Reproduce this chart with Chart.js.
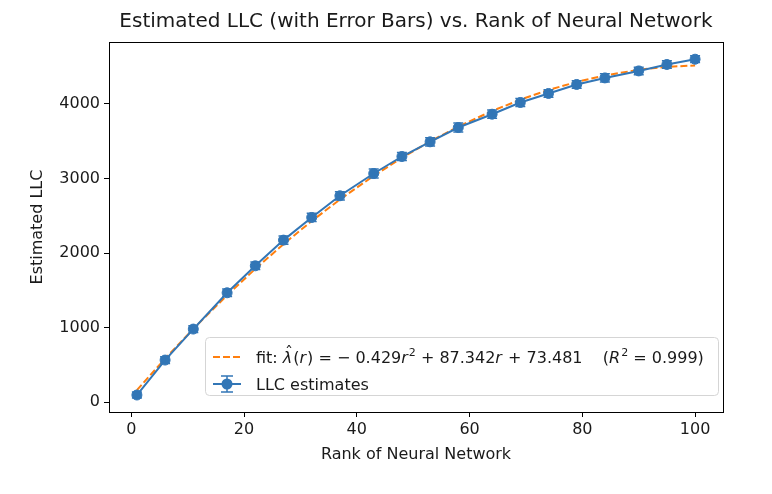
<!DOCTYPE html>
<html><head><meta charset="utf-8">
<script src="https://cdn.jsdelivr.net/npm/chart.js@4"></script>
<style>html,body{margin:0;padding:0;background:#fff}#wrap{width:772px;height:494px}</style>
</head><body><div id="wrap"><canvas id="c" width="772" height="494"></canvas></div>
<script>
const ranks = [1,6,11,17,22,27,32,37,43,48,53,58,64,69,74,79,84,90,95,100];
const llc = [94,563,979,1466,1828,2173,2477,2768,3067,3295,3492,3684,3863,4020,4141,4262,4350,4444,4530,4601];
const llcErr = [40,45,45,50,50,55,55,55,60,55,55,60,55,55,50,50,55,50,50,45];
const fitValues = [160,582,982,1434,1787,2119,2429,2718,3036,3278,3498,3696,3906,4058,4188,4296,4383,4459,4499,4518];
const xTicks = [0,20,40,60,80,100];
const yTicks = [0,1000,2000,3000,4000];
const titleText = 'Estimated LLC (with Error Bars) vs. Rank of Neural Network';
const xLabel = 'Rank of Neural Network';
const yLabel = 'Estimated LLC';
const legendLLC = 'LLC estimates';

const BLUE = 'rgb(50,118,182)';
const ORANGE = '#ff7f0e';
const TXT = '#1a1a1a';
const FONT = 'DejaVu Sans';
const FS = 16;

const decor = {
  id: 'decor',
  afterDatasetsDraw(chart) {
    const {ctx, scales: {x, y}} = chart;
    ctx.save();
    ctx.strokeStyle = BLUE; ctx.lineWidth = 1.5;
    ranks.forEach((r, i) => {
      const px = x.getPixelForValue(r);
      const t = y.getPixelForValue(llc[i] + llcErr[i]);
      const b = y.getPixelForValue(llc[i] - llcErr[i]);
      ctx.beginPath();
      ctx.moveTo(px, t); ctx.lineTo(px, b);
      ctx.moveTo(px - 5, t); ctx.lineTo(px + 5, t);
      ctx.moveTo(px - 5, b); ctx.lineTo(px + 5, b);
      ctx.stroke();
    });
    ctx.restore();
  },
  afterDraw(chart) {
    const {ctx, chartArea: a} = chart;
    ctx.save();
    // frame
    ctx.strokeStyle = '#000'; ctx.lineWidth = 1;
    ctx.strokeRect(Math.round(a.left) + 0.5, Math.round(a.top) + 0.5, Math.round(a.right - a.left), Math.round(a.bottom - a.top));
    // title
    ctx.fillStyle = TXT;
    ctx.font = '20px "' + FONT + '"';
    ctx.textAlign = 'center'; ctx.textBaseline = 'middle';
    ctx.fillText(titleText, (a.left + a.right) / 2, 22);
    // legend box
    const bx = 205.5, by = 337.5, bw = 513, bh = 58, rr = 4;
    ctx.beginPath();
    ctx.roundRect(bx, by, bw, bh, rr);
    ctx.fillStyle = 'rgba(255,255,255,0.85)'; ctx.fill();
    ctx.strokeStyle = '#d5d5d5'; ctx.lineWidth = 1; ctx.stroke();
    // row 1: fit
    const r1 = 357, r2 = 384;
    ctx.strokeStyle = ORANGE; ctx.lineWidth = 2; ctx.setLineDash([7, 3]);
    ctx.beginPath(); ctx.moveTo(213, r1); ctx.lineTo(241, r1); ctx.stroke();
    ctx.setLineDash([]);
    const runs = [
      ['fit: ', 'n'], ['λ', 'i', 'hat'], ['(', 'n'], ['r', 'i'], [')', 'n'], [' = \u2212 0.429', 'n'], ['r', 'i'], ['2', 's'],
      [' + 87.342', 'n'], ['r', 'i'], [' + 73.481    (', 'n'], ['R', 'i'], ['2', 's'], [' = 0.999)', 'n']
    ];
    let cx = 256;
    ctx.textAlign = 'left'; ctx.textBaseline = 'alphabetic'; ctx.fillStyle = TXT;
    const base1 = r1 + 6;
    runs.forEach(([t, s, extra]) => {
      let f, yy = base1;
      if (s === 'n') f = FS + 'px "' + FONT + '"';
      else if (s === 'i') f = 'italic ' + FS + 'px "' + FONT + '"';
      else { f = '11px "' + FONT + '"'; yy = base1 - 7; }
      ctx.font = f;
      ctx.fillText(t, cx, yy);
      const w = ctx.measureText(t).width;
      if (extra === 'hat') {
        ctx.font = FS + 'px "' + FONT + '"';
        ctx.textAlign = 'center';
        ctx.fillText('\u02C6', cx + w / 2 + 1.5, base1 - 5);
        ctx.textAlign = 'left';
      }
      cx += w + (s === 'i' ? 1 : 0);
    });
    // row 2: LLC
    ctx.strokeStyle = BLUE; ctx.fillStyle = BLUE; ctx.lineWidth = 2;
    ctx.beginPath(); ctx.moveTo(213, r2); ctx.lineTo(241, r2); ctx.stroke();
    ctx.lineWidth = 1.5;
    ctx.beginPath();
    ctx.moveTo(227, r2 - 8); ctx.lineTo(227, r2 + 8);
    ctx.moveTo(221, r2 - 8); ctx.lineTo(233, r2 - 8);
    ctx.moveTo(221, r2 + 8); ctx.lineTo(233, r2 + 8);
    ctx.stroke();
    ctx.beginPath(); ctx.arc(227, r2, 5.5, 0, Math.PI * 2); ctx.fill();
    ctx.fillStyle = TXT; ctx.font = FS + 'px "' + FONT + '"';
    ctx.fillText(legendLLC, 256, r2 + 6);
    ctx.restore();
  }
};

const tickFont = {family: FONT, size: FS};
new Chart(document.getElementById('c'), {
  type: 'line',
  data: {
    datasets: [
      {
        label: 'fit', data: ranks.map((r, i) => ({x: r, y: fitValues[i]})),
        borderColor: ORANGE, borderWidth: 2, borderDash: [7, 3], pointRadius: 0, fill: false, order: 2
      },
      {
        label: legendLLC, data: ranks.map((r, i) => ({x: r, y: llc[i]})),
        borderColor: BLUE, backgroundColor: BLUE, borderWidth: 2, pointRadius: 5, pointBorderWidth: 1,
        pointBackgroundColor: BLUE, pointBorderColor: BLUE, fill: false, order: 1
      }
    ]
  },
  options: {
    responsive: false, animation: false, devicePixelRatio: 1,
    layout: {padding: {left: 0, right: 49, top: 42, bottom: 0}},
    plugins: {legend: {display: false}, title: {display: false}, tooltip: {enabled: false}},
    scales: {
      x: {
        type: 'linear', min: -3.95, max: 104.95,
        afterBuildTicks: s => { s.ticks = xTicks.map(v => ({value: v})); },
        afterFit: s => { s.height = 82; },
        ticks: {font: tickFont, color: TXT, padding: 3, callback: v => String(v), maxRotation: 0},
        grid: {drawOnChartArea: false, tickLength: 5, color: '#000'},
        border: {display: false},
        title: {display: true, text: xLabel, font: tickFont, color: TXT, padding: {top: 0, bottom: 30}}
      },
      y: {
        type: 'linear', min: -134, max: 4832,
        afterBuildTicks: s => { s.ticks = yTicks.map(v => ({value: v})); },
        afterFit: s => { s.width = 109; },
        ticks: {font: tickFont, color: TXT, padding: 4, callback: v => String(v)},
        grid: {drawOnChartArea: false, tickLength: 5, color: '#000'},
        border: {display: false},
        title: {display: true, text: yLabel, font: tickFont, color: TXT, padding: {top: 28, bottom: 0}}
      }
    }
  },
  plugins: [decor]
});
</script></body></html>
